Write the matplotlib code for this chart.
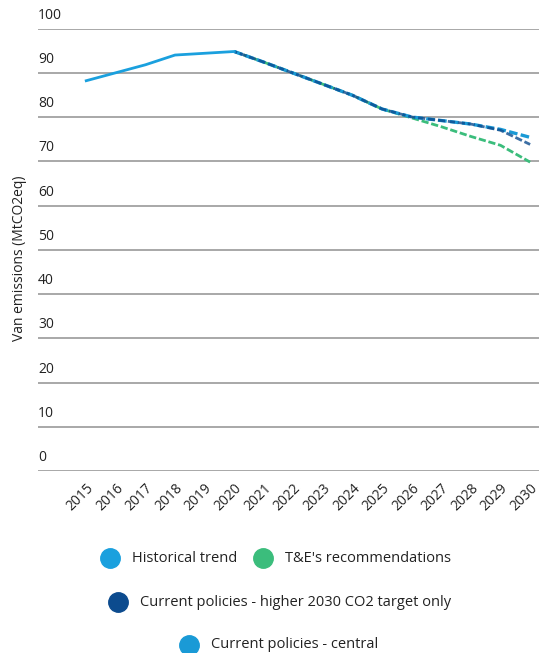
import matplotlib
matplotlib.use("Agg")
import matplotlib.pyplot as plt
from matplotlib.lines import Line2D
import matplotlib.transforms as mtransforms

plt.rcParams['font.family'] = ['Open Sans', 'DejaVu Sans']

years = [str(y) for y in range(2015, 2031)]
hist_years = list(range(2015, 2021))
hist_vals = [88.2, 90.0, 91.8, 94.0, 94.4, 94.8]
proj_years = list(range(2020, 2031))
central_vals = [94.8, 92.4, 89.9, 87.4, 84.9, 81.8, 80.0, 79.2, 78.4, 77.2, 75.4]
higher_vals = [94.8, 92.4, 89.9, 87.4, 84.9, 81.8, 80.0, 79.2, 78.4, 77.0, 73.8]
te_vals = [94.8, 92.4, 89.9, 87.4, 84.9, 81.8, 79.8, 77.8, 75.6, 73.6, 69.8]
yticks = [0, 10, 20, 30, 40, 50, 60, 70, 80, 90, 100]
legend_labels = ["Historical trend", "T&E's recommendations",
                 "Current policies - higher 2030 CO2 target only",
                 "Current policies - central"]

c_hist = '#1aa0de'
c_green = '#3bbd7c'
c_dark = '#0c4b8e'
c_central = '#1a9ad6'

W, H = 539, 653
fig = plt.figure(figsize=(W / 100, H / 100), dpi=100)
ax_left, ax_right = 38 / W, 1.0
ax_bottom, ax_top = 1 - 471 / H, 1 - 28.5 / H
ax = fig.add_axes([ax_left, ax_bottom, ax_right - ax_left, ax_top - ax_bottom])

idx = {y: i for i, y in enumerate(range(2015, 2031))}
hx = [idx[y] for y in hist_years]
px = [idx[y] for y in proj_years]

dash = (0, (2.6, 1.0))
ax.plot(px, te_vals, color=c_green, lw=2.0, linestyle=dash, zorder=3)
ax.plot(px, central_vals, color=c_central, lw=2.4, linestyle=dash, zorder=4)
ax.plot(px, higher_vals, color=c_dark, lw=2.0, linestyle=(1.5, (2.6, 1.0)), zorder=5, alpha=0.8)
ax.plot(hx, hist_vals, color=c_hist, lw=2.0, zorder=6)

ax.set_ylim(0, 100)
ax.set_xlim(-1.63, 15.3)
for s in ax.spines.values():
    s.set_visible(False)
ax.set_yticks(yticks)
ax.yaxis.grid(True, color='#9a9a9a', lw=1.2)
ax.set_axisbelow(True)
ax.tick_params(axis='y', length=0, labelleft=False)
trans = mtransforms.blended_transform_factory(ax.transAxes, ax.transData)
for t in yticks:
    ax.text(0.0, t + 1.3, str(t), transform=trans, ha='left', va='bottom',
            fontsize=10, color='#222222')

ax.set_xticks(range(len(years)))
ax.set_xticklabels(years, rotation=45, ha='right', rotation_mode='anchor',
                   fontsize=10, color='#222222')
ax.tick_params(axis='x', length=0, pad=7)

fig.text(20 / W, 1 - 258 / H, "Van emissions (MtCO2eq)", rotation=90,
         ha='center', va='center', fontsize=10, color='#222222')

# Legend rows
def leg(cx, cy, color, label):
    fig.add_artist(Line2D([cx / W], [1 - cy / H], marker='o', markersize=14,
                          color=color, linestyle='none', transform=fig.transFigure))
    fig.text((cx + 22) / W, 1 - cy / H, label, ha='left', va='center',
             fontsize=10.5, color='#222222')

leg(110, 558, c_hist, legend_labels[0])
leg(263, 558, c_green, legend_labels[1])
leg(118, 602, c_dark, legend_labels[2])
leg(189, 645, c_central, legend_labels[3])

fig.savefig("out.png", dpi=100)
